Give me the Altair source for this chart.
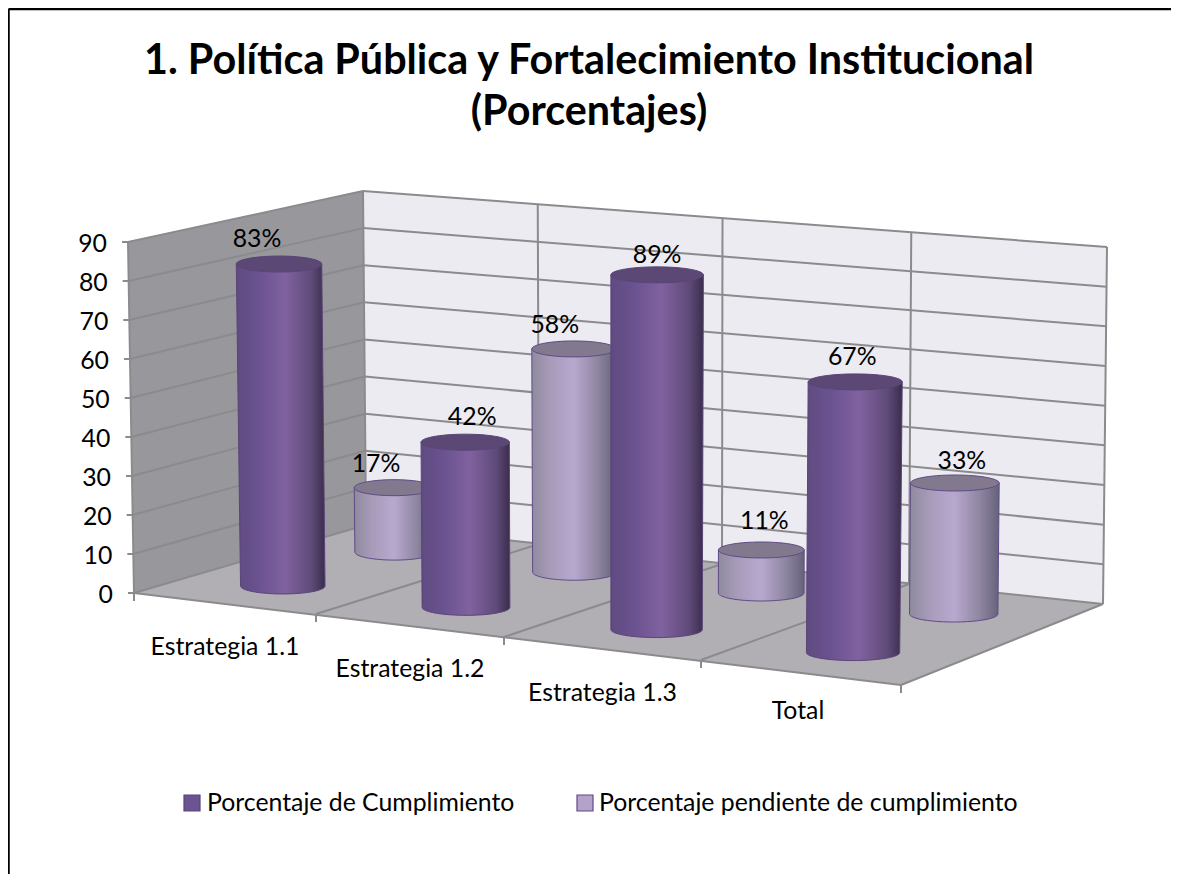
import numpy as np
import pandas as pd
import altair as alt

# ---- chart values ----
TITLE_LINES = ["1. Política Pública y Fortalecimiento Institucional", "(Porcentajes)"]
CATEGORIES = ["Estrategia 1.1", "Estrategia 1.2", "Estrategia 1.3", "Total"]
SERIES_NAMES = ["Porcentaje de Cumplimiento", "Porcentaje pendiente de cumplimiento"]
CUMPLIMIENTO = [83, 42, 89, 67]
PENDIENTE = [17, 58, 11, 33]
Y_TICKS = [0, 10, 20, 30, 40, 50, 60, 70, 80, 90]

FONT = "Lato"

# ---- camera of the 3D box, in canvas units ----
FRONT_EDGE = [(134, 593), (316, 614), (504, 637), (701, 660), (901, 685)]
BACK_EDGE = [(366, 525), (539, 544), (722, 564), (909, 584), (1103, 604)]
LIFT = {"fl": (-6, -351), "bl": (-3, -334), "fr": (4, -369), "br": (4, -357)}
FRONT_EDGE, BACK_EDGE = np.array(FRONT_EDGE, float), np.array(BACK_EDGE, float)


def edge(e, u):
    return np.array([np.interp(u, range(5), e[:, 0]), np.interp(u, range(5), e[:, 1])])


def P(u, v, h=0.0):
    base = (1 - v) * edge(FRONT_EDGE, u) + v * edge(BACK_EDGE, u)
    s = u / 4.0
    lift = (
        (1 - v) * ((1 - s) * np.array(LIFT["fl"]) + s * np.array(LIFT["fr"]))
        + v * ((1 - s) * np.array(LIFT["bl"]) + s * np.array(LIFT["br"]))
    )
    return tuple(base + lift * h / 90.0)


# ---- scales shared by every layer ----
X = alt.X("x:Q", axis=None, scale=alt.Scale(domain=[8, 1171], nice=False, zero=False))
Y = alt.Y("y:Q", axis=None, scale=alt.Scale(domain=[874, 8], nice=False, zero=False))


def poly(points, fill, stroke=None, sw=0.0):
    df = pd.DataFrame(points, columns=["x", "y"]).assign(i=range(len(points)))
    kw = dict(fill=fill, interpolate="linear-closed", strokeWidth=sw, clip=False)
    kw["stroke"] = stroke if stroke else "transparent"
    return alt.Chart(df).mark_line(**kw).encode(x=X, y=Y, order="i:Q")


def seg(a, b, color="#8b8b8d", sw=2.0):
    df = pd.DataFrame([a, b], columns=["x", "y"]).assign(i=[0, 1])
    return alt.Chart(df).mark_line(stroke=color, strokeWidth=sw).encode(x=X, y=Y, order="i:Q")


def text(rows, size, align="center", weight="normal", color="#000000", baseline="middle"):
    df = pd.DataFrame(rows, columns=["x", "y", "t"])
    return alt.Chart(df).mark_text(
        font=FONT, fontSize=size, align=align, baseline=baseline, fontWeight=weight, color=color
    ).encode(x=X, y=Y, text="t:N")


def gradient(stops):
    return alt.LinearGradient(
        gradient="linear", x1=0, x2=1, y1=0, y2=0,
        stops=[alt.GradientStop(offset=o, color=c) for o, c in stops],
    )


DARK = dict(
    body=gradient([(0, "#5f4b80"), (0.25, "#6a5290"), (0.55, "#80629f"), (0.85, "#5e4a78"), (1, "#3a2d4c")]),
    top="#5b4874", stroke="#5a4479",
)
LIGHT = dict(
    body=gradient([(0, "#8f8a9e"), (0.22, "#a79bb9"), (0.5, "#b8a8cf"), (0.78, "#8f86a1"), (1, "#66627a")]),
    top="#83798f", stroke="#5f4a86",
)

V_FRONT, V_BACK = 0.254, 0.745
R_FRONT, R_BACK = 0.235, 0.226
RY = 8.0


def cylinder(u, v, value, style, radius):
    bx, by = P(u, v, 0)
    tx, ty = P(u, v, value)
    rb = radius * abs(P(u + 0.5, v)[0] - P(u - 0.5, v)[0])
    rt = radius * abs(P(u + 0.5, v, value)[0] - P(u - 0.5, v, value)[0])
    angles = np.linspace(0, np.pi, 41)
    arc_bottom = [(bx - rb * np.cos(a), by + RY * np.sin(a)) for a in angles]
    ring = np.linspace(0, 2 * np.pi, 61)[:-1]
    top = [(tx + rt * np.cos(a), ty + RY * np.sin(a)) for a in ring]
    body = [(tx - rt, ty)] + arc_bottom + [(tx + rt, ty)]
    return [poly(body, style["body"], style["stroke"], 1.0), poly(top, style["top"], style["stroke"], 1.0)]


layers = []

# walls and floor
layers.append(poly([P(0, 1), P(4, 1), P(4, 1, 90), P(0, 1, 90)], "#ecebf1"))
layers.append(poly([P(0, 0), P(0, 1), P(0, 1, 90), P(0, 0, 90)], "#98979c"))
layers.append(poly([P(0, 0), P(4, 0), P(4, 1), P(0, 1)], "#b1afb4"))

# gridlines
for t in Y_TICKS:
    layers.append(seg(P(0, 0, t), P(0, 1, t)))
    layers.append(seg(P(0, 1, t), P(4, 1, t)))
for u in range(1, 4):
    layers.append(seg(P(u, 1, 0), P(u, 1, 90)))
    layers.append(seg(P(u, 0), P(u, 1)))
layers.append(seg(P(4, 1, 0), P(4, 1, 90)))
layers.append(seg(P(0, 1, 0), P(0, 1, 90)))
layers.append(seg(P(0, 0, 0), P(0, 0, 90)))
layers.append(seg(P(0, 0), P(4, 0)))
layers.append(seg(P(4, 0), P(4, 1)))

# axis ticks
for t in Y_TICKS:
    x, y = P(0, 0, t)
    layers.append(seg((x - 6, y), (x, y)))
for u in range(5):
    x, y = P(u, 0)
    layers.append(seg((x, y), (x, y + 8)))

# cylinders: back row first, then the front row
for i, val in enumerate(PENDIENTE):
    layers += cylinder(i + 0.5, V_BACK, val, LIGHT, R_BACK)
for i, val in enumerate(CUMPLIMIENTO):
    layers += cylinder(i + 0.5, V_FRONT, val, DARK, R_FRONT)

# text
LABEL_SIZE = 24.8
layers.append(text([(P(0, 0, t)[0] - 21, P(0, 0, t)[1] + 2.5, str(t)) for t in Y_TICKS], LABEL_SIZE, align="right"))
CAT_DX = [0, 0, 0, -3]
CAT_DY = [44, 44, 45, 39]
layers.append(text(
    [(P(i + 0.5, 0)[0] + CAT_DX[i], P(i + 0.5, 0)[1] + CAT_DY[i], c) for i, c in enumerate(CATEGORIES)],
    LABEL_SIZE,
))
LBL_DX = dict(front=[-22, 7, 0, -3], back=[-18, -19, 3, 7])
LBL_DY = dict(front=[-24, -24, -19, -24], back=[-23, -23, -28, -21])
rows = []
for i, val in enumerate(CUMPLIMIENTO):
    x, y = P(i + 0.5, V_FRONT, val)
    rows.append((x + LBL_DX["front"][i], y + LBL_DY["front"][i], f"{val}%"))
for i, val in enumerate(PENDIENTE):
    x, y = P(i + 0.5, V_BACK, val)
    rows.append((x + LBL_DX["back"][i], y + LBL_DY["back"][i], f"{val}%"))
layers.append(text(rows, LABEL_SIZE))

layers.append(text([(589, 61.5, TITLE_LINES[0]), (589, 113, TITLE_LINES[1])], 41.3, weight="bold"))

# legend
legend_df = pd.DataFrame({"x": [192, 585], "y": [803, 803], "k": SERIES_NAMES})
layers.append(
    alt.Chart(legend_df).mark_point(shape="square", filled=True, size=256, opacity=1, strokeWidth=1.2)
    .encode(
        x=X, y=Y,
        fill=alt.Fill("k:N", scale=alt.Scale(domain=SERIES_NAMES, range=["#6c5492", "#b3a2c9"]), legend=None),
        stroke=alt.Stroke("k:N", scale=alt.Scale(domain=SERIES_NAMES, range=["#5a4479", "#5f4a86"]), legend=None),
    )
)
layers.append(text([(207, 804, SERIES_NAMES[0]), (599, 804, SERIES_NAMES[1])], LABEL_SIZE, align="left"))

# picture frame
layers.append(seg((8.5, 9), (1171, 9), "#000000", 2.5))
layers.append(seg((8.5, 9), (8.5, 874), "#000000", 2.5))

chart = (
    alt.layer(*layers)
    .properties(width=1163, height=866, padding=0, background="#ffffff", autosize=alt.AutoSizeParams(type="none"))
    .configure_view(stroke=None)
    .resolve_scale(fill="independent", stroke="independent")
)

chart.save("out.html", embed_options={"renderer": "svg", "actions": False})
